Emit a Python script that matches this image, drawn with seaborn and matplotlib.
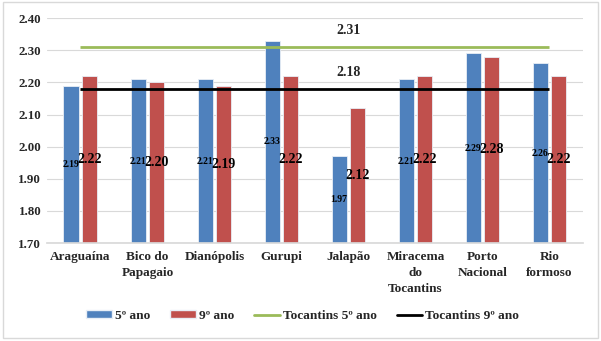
import matplotlib
matplotlib.use("Agg")
import matplotlib.pyplot as plt
import seaborn as sns
import pandas as pd
from matplotlib.patches import Rectangle, Patch
from matplotlib.lines import Line2D

categories = ["Araguaína", "Bico do\nPapagaio", "Dianópolis", "Gurupi", "Jalapão",
              "Miracema\ndo\nTocantins", "Porto\nNacional", "Rio\nformoso"]
ano5 = [2.19, 2.21, 2.21, 2.33, 1.97, 2.21, 2.29, 2.26]
ano9 = [2.22, 2.20, 2.19, 2.22, 2.12, 2.22, 2.28, 2.22]
tocantins5 = 2.31
tocantins9 = 2.18
series_names = ["5º ano", "9º ano"]
line_names = ["Tocantins 5º ano", "Tocantins 9º ano"]
yticks = [1.70, 1.80, 1.90, 2.00, 2.10, 2.20, 2.30, 2.40]

blue = "#4F81BD"
red = "#C0504D"
green = "#9BBB59"

sns.set_theme(style="white")
plt.rcParams["font.family"] = ["Liberation Serif", "DejaVu Serif"]
plt.rcParams["font.weight"] = "bold"

df = pd.DataFrame({
    "cat": categories * 2,
    "val": ano5 + ano9,
    "serie": [series_names[0]] * len(categories) + [series_names[1]] * len(categories),
})

fig = plt.figure(figsize=(6.01, 3.41), dpi=100)
ax = fig.add_axes([0.078, 0.287, 0.892, 0.66])

sns.barplot(data=df, x="cat", y="val", hue="serie", palette=[blue, red],
            saturation=1, width=0.56, gap=0.2, ax=ax, legend=False, errorbar=None,
            edgecolor="#E8EEF6", linewidth=0.6)

ymin, ymax = yticks[0], yticks[-1]
ax.set_ylim(ymin, ymax)
ax.set_xlim(-0.5, len(categories) - 0.5)
ax.set_yticks(yticks)
ax.set_yticklabels([f"{t:.2f}" for t in yticks], fontsize=9.3, fontweight="bold")
ax.set_xticks(range(len(categories)))
ax.set_xticklabels(categories, fontsize=9.5, fontweight="bold", linespacing=1.4)
ax.tick_params(axis="both", length=0, pad=4)
ax.tick_params(axis="x", pad=6)
ax.set_xlabel("")
ax.set_ylabel("")
ax.grid(axis="y", color="#D9D9D9", linewidth=0.8)
ax.set_axisbelow(True)
for s in ["top", "right", "left"]:
    ax.spines[s].set_visible(False)
ax.spines["bottom"].set_color("#D9D9D9")

# data labels, centered in visible bar
for container, sizes in zip(ax.containers, [7, 10]):
    for bar in container:
        h = bar.get_height()
        xc = bar.get_x() + bar.get_width() / 2
        ax.text(xc, (h + ymin) / 2, f"{h:.2f}", ha="center", va="center",
                fontsize=sizes, fontweight="bold", color="black", zorder=5)

n = len(categories)
ax.hlines(tocantins5, 0, n - 1, color=green, linewidth=2, zorder=4)
ax.hlines(tocantins9, 0, n - 1, color="black", linewidth=2, zorder=4)
ax.text(4, tocantins5 + 0.05, f"{tocantins5:.2f}", ha="center", va="center",
        fontsize=10, fontweight="bold")
ax.text(4, tocantins9 + 0.05, f"{tocantins9:.2f}", ha="center", va="center",
        fontsize=10, fontweight="bold")

handles = [Patch(facecolor=blue, edgecolor="#E8EEF6"),
           Patch(facecolor=red, edgecolor="#E8EEF6"),
           Line2D([], [], color=green, linewidth=2),
           Line2D([], [], color="black", linewidth=2)]
fig.legend(handles, series_names + line_names, loc="center",
           bbox_to_anchor=(0.504, 0.073), ncol=4, frameon=False,
           prop={"size": 9.6, "weight": "bold"}, handlelength=1.9,
           handleheight=0.55, handletextpad=0.25, columnspacing=1.5)

fig.patches.append(Rectangle((0.005, 0.008), 0.99, 0.985, transform=fig.transFigure,
                             fill=False, edgecolor="#D9D9D9", linewidth=1))

fig.savefig("out.png", dpi=100)
